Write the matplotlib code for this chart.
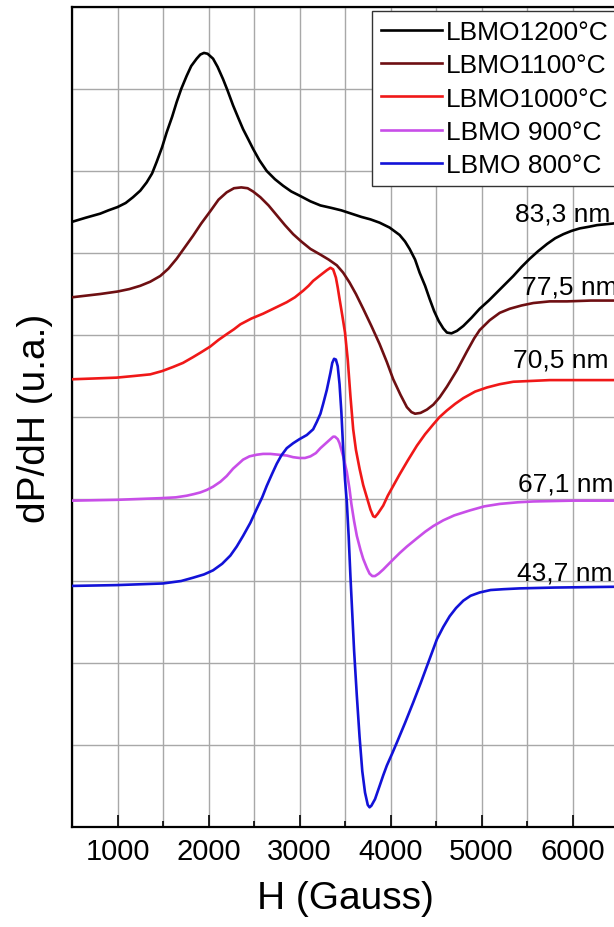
import matplotlib
matplotlib.use("Agg")
import matplotlib.pyplot as plt
from matplotlib.ticker import MultipleLocator

plt.rcParams['font.family'] = ['Liberation Sans', 'DejaVu Sans']

# EPR derivative spectra, offset per sample (arbitrary units)
h1200 = [500, 650, 810, 900, 1000, 1090, 1170, 1250, 1320, 1380, 1430, 1490, 1540, 1600,
         1650, 1700, 1760, 1810, 1870, 1910, 1950, 1990, 2050, 2100, 2160, 2210, 2270,
         2330, 2380, 2440, 2490, 2560, 2640, 2730, 2820, 2910, 3000, 3120, 3230, 3350,
         3460, 3570, 3680, 3780, 3880, 3990, 4100, 4160, 4210, 4270, 4320, 4380, 4430,
         4480, 4530, 4580, 4620, 4670, 4730, 4800, 4890, 4980, 5080, 5170, 5260, 5350,
         5440, 5530, 5620, 5720, 5810, 5900, 5990, 6080, 6180, 6270, 6360, 6450, 6500]
y1200 = [7.38, 7.43, 7.48, 7.52, 7.56, 7.61, 7.68, 7.76, 7.86, 7.97, 8.11, 8.29, 8.47, 8.66,
         8.84, 9.00, 9.16, 9.28, 9.37, 9.42, 9.44, 9.43, 9.37, 9.27, 9.12, 8.98, 8.80,
         8.64, 8.51, 8.38, 8.27, 8.13, 8.00, 7.90, 7.82, 7.75, 7.70, 7.63, 7.58, 7.55,
         7.52, 7.48, 7.44, 7.41, 7.37, 7.31, 7.22, 7.14, 7.05, 6.92, 6.76, 6.60, 6.44,
         6.29, 6.17, 6.08, 6.03, 6.02, 6.05, 6.11, 6.21, 6.32, 6.42, 6.52, 6.62, 6.72,
         6.83, 6.93, 7.02, 7.11, 7.18, 7.23, 7.27, 7.30, 7.32, 7.34, 7.35, 7.36, 7.37]

h1100 = [500, 810, 1000, 1130, 1250, 1360, 1470, 1560, 1650, 1740, 1830, 1920, 2020, 2110,
         2200, 2280, 2360, 2430, 2490, 2570, 2660, 2750, 2840, 2930, 3020, 3120, 3230,
         3320, 3410, 3480, 3550, 3620, 3700, 3790, 3880, 3960, 4030, 4110, 4180, 4230,
         4270, 4330, 4400, 4470, 4540, 4620, 4730, 4840, 4920, 4980, 5090, 5200, 5310,
         5440, 5570, 5750, 5940, 6200, 6500]
y1100 = [6.46, 6.50, 6.53, 6.56, 6.60, 6.65, 6.72, 6.81, 6.93, 7.07, 7.21, 7.36, 7.51, 7.65,
         7.74, 7.79, 7.80, 7.79, 7.75, 7.68, 7.58, 7.46, 7.34, 7.23, 7.14, 7.05, 6.98,
         6.92, 6.85, 6.76, 6.64, 6.50, 6.32, 6.11, 5.89, 5.67, 5.46, 5.27, 5.12, 5.06,
         5.04, 5.05, 5.09, 5.15, 5.24, 5.37, 5.57, 5.80, 5.96, 6.06, 6.18, 6.27, 6.32,
         6.36, 6.39, 6.41, 6.41, 6.42, 6.42]

h1000 = [500, 750, 990, 1180, 1360, 1490, 1610, 1720, 1830, 1920, 2020, 2110, 2200, 2280,
         2350, 2470, 2600, 2730, 2860, 2950, 3040, 3100, 3150, 3230, 3300, 3340, 3370,
         3400, 3420, 3440, 3470, 3500, 3530, 3560, 3590, 3620, 3660, 3700, 3740, 3780,
         3810, 3830, 3860, 3920, 3970, 4030, 4100, 4190, 4290, 4380, 4470, 4540, 4620,
         4710, 4800, 4930, 5060, 5200, 5350, 5550, 5750, 6500]
y1000 = [5.46, 5.47, 5.48, 5.50, 5.52, 5.56, 5.61, 5.66, 5.73, 5.79, 5.86, 5.94, 6.01, 6.07,
         6.13, 6.20, 6.26, 6.33, 6.40, 6.46, 6.54, 6.60, 6.66, 6.73, 6.79, 6.82, 6.80,
         6.70, 6.58, 6.44, 6.24, 6.03, 5.70, 5.25, 4.85, 4.60, 4.37, 4.17, 4.02, 3.87,
         3.79, 3.78, 3.82, 3.92, 4.04, 4.16, 4.30, 4.47, 4.65, 4.79, 4.91, 5.00, 5.08,
         5.16, 5.23, 5.31, 5.36, 5.40, 5.43, 5.44, 5.45, 5.45]

h900 = [500, 990, 1470, 1640, 1760, 1840, 1910, 1980, 2050, 2130, 2200, 2270, 2330, 2380,
        2450, 2530, 2600, 2680, 2770, 2860, 2930, 3000, 3060, 3120, 3180, 3230, 3290,
        3340, 3370, 3390, 3420, 3440, 3480, 3520, 3550, 3570, 3600, 3630, 3670, 3700,
        3740, 3770, 3800, 3830, 3870, 3920, 4000, 4100, 4180, 4290, 4380, 4470, 4580,
        4700, 4870, 5030, 5200, 5400, 5570, 6000, 6500]
y900 = [3.98, 3.99, 4.01, 4.02, 4.04, 4.06, 4.08, 4.11, 4.15, 4.21, 4.28, 4.37, 4.43, 4.48,
        4.52, 4.54, 4.55, 4.55, 4.54, 4.53, 4.51, 4.50, 4.50, 4.52, 4.56, 4.62, 4.68,
        4.73, 4.76, 4.76, 4.73, 4.68, 4.52, 4.33, 4.12, 3.94, 3.73, 3.55, 3.38, 3.27,
        3.16, 3.09, 3.06, 3.06, 3.09, 3.14, 3.23, 3.34, 3.42, 3.52, 3.60, 3.67, 3.74,
        3.80, 3.86, 3.91, 3.94, 3.96, 3.97, 3.98, 3.98]

h800 = [500, 990, 1500, 1700, 1830, 1950, 2050, 2150, 2240, 2310, 2380, 2460, 2530, 2590,
        2640, 2700, 2750, 2800, 2860, 2930, 3000, 3080, 3150, 3190, 3230, 3260, 3300,
        3340, 3360, 3380, 3400, 3420, 3440, 3460, 3480, 3500, 3520, 3540, 3560, 3580,
        3600, 3630, 3660, 3690, 3720, 3750, 3770, 3790, 3830, 3880, 3920, 3960, 4020,
        4070, 4160, 4250, 4330, 4400, 4460, 4510, 4580, 4650, 4720, 4800, 4880, 4980,
        5100, 5240, 5420, 5800, 6500]
y800 = [2.94, 2.95, 2.97, 3.00, 3.04, 3.08, 3.13, 3.21, 3.31, 3.42, 3.55, 3.71, 3.88, 4.02,
        4.16, 4.31, 4.43, 4.53, 4.62, 4.68, 4.73, 4.78, 4.85, 4.94, 5.04, 5.16, 5.33,
        5.54, 5.66, 5.71, 5.70, 5.62, 5.40, 5.06, 4.61, 4.24, 3.96, 3.55, 3.05, 2.60,
        2.15, 1.60, 1.10, 0.68, 0.42, 0.27, 0.24, 0.26, 0.34, 0.50, 0.63, 0.75, 0.90,
        1.03, 1.27, 1.52, 1.75, 1.96, 2.14, 2.29, 2.44, 2.57, 2.67, 2.76, 2.82, 2.86,
        2.89, 2.90, 2.91, 2.92, 2.93]

series_labels = ['LBMO1200°C', 'LBMO1100°C', 'LBMO1000°C', 'LBMO 900°C', 'LBMO 800°C']
series_colors = ['#000000', '#6e0f12', '#f01818', '#c84ee8', '#1212d8']

size_labels = ['83,3 nm', '77,5 nm', '70,5 nm', '67,1 nm', '43,7 nm']
size_h = [5368, 5442, 5346, 5401, 5390]
size_y = [7.40, 6.50, 5.61, 4.10, 3.02]

fig = plt.figure(figsize=(6.14, 9.28), dpi=100)
ax = fig.add_axes([72 / 614, 100 / 928, 546 / 614, 820 / 928])

curves = [(h1200, y1200), (h1100, y1100), (h1000, y1000), (h900, y900), (h800, y800)]
for k in range(len(curves)):
    ax.plot(curves[k][0], curves[k][1], color=series_colors[k], lw=1.9,
            label=series_labels[k], solid_joinstyle='round', zorder=3)

for k in range(len(size_labels)):
    ax.text(size_h[k], size_y[k], size_labels[k], fontsize=19, ha='left',
            va='baseline', zorder=4)

ax.set_xlim(500, 6500)
ax.set_ylim(0, 10)
ax.xaxis.set_minor_locator(MultipleLocator(500))
ax.yaxis.set_major_locator(MultipleLocator(1))
ax.set_xticks([1000, 2000, 3000, 4000, 5000, 6000])
ax.tick_params(axis='x', which='major', direction='in', length=8.6, width=1.2,
               labelsize=21, pad=7)
ax.tick_params(axis='x', which='minor', direction='in', length=4.3, width=1.2)
ax.tick_params(axis='y', which='both', length=0, labelleft=False)
ax.grid(True, which='both', axis='x', color='#a8a8a8', lw=1.0)
ax.grid(True, which='major', axis='y', color='#a8a8a8', lw=1.0)
ax.set_axisbelow(True)
for s in ax.spines.values():
    s.set_linewidth(1.6)

ax.set_xlabel('H (Gauss)', fontsize=28, labelpad=11)
ax.set_ylabel('dP/dH (u.a.)', fontsize=28, labelpad=14)

leg = ax.legend(loc='upper left', bbox_to_anchor=(372 / 614, 1 - 12 / 928),
                bbox_transform=fig.transFigure, fontsize=19, frameon=True,
                fancybox=False, framealpha=1, edgecolor='#333333',
                handlelength=2.3, handletextpad=0.15, borderpad=0.35,
                labelspacing=0.35, borderaxespad=0)
leg.get_frame().set_linewidth(1.0)
leg.set_zorder(5)

fig.savefig('out.png', dpi=100)
